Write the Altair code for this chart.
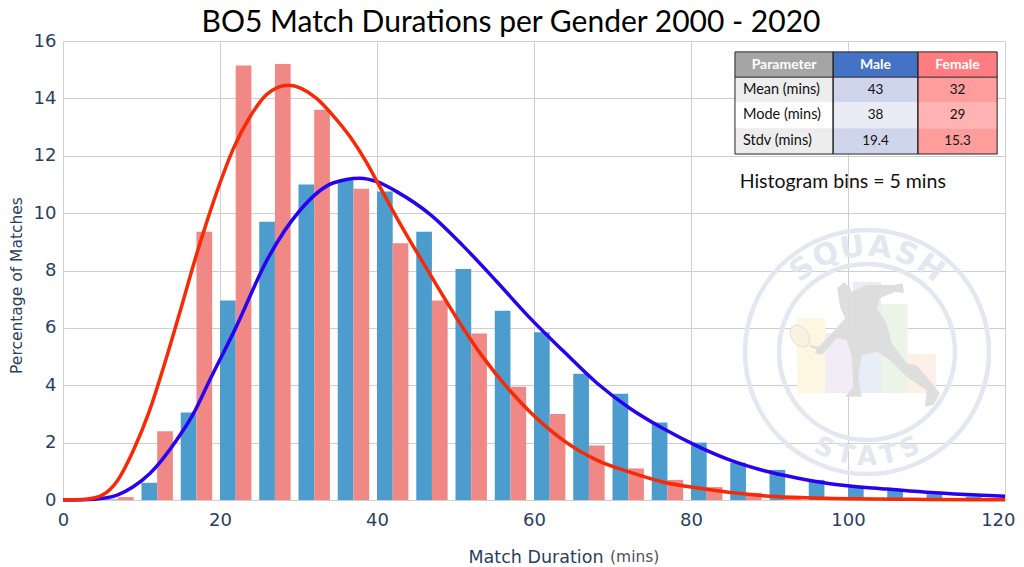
import altair as alt
import pandas as pd
import math

title = "BO5 Match Durations per Gender 2000 - 2020"
bin_centres = [7, 12, 17, 22, 27, 32, 37, 42, 47, 52, 57, 62, 67, 72, 77, 82, 87, 92, 97, 102, 107, 112, 117]
male_pct = [0.02, 0.6, 3.05, 6.95, 9.7, 11.0, 11.15, 10.75, 9.35, 8.05, 6.6, 5.85, 4.4, 3.7, 2.7, 2.0, 1.3, 1.05, 0.7, 0.5, 0.35, 0.2, 0.12]
female_pct = [0.1, 2.4, 9.35, 15.15, 15.2, 13.6, 10.85, 8.95, 6.95, 5.8, 3.95, 3.0, 1.9, 1.1, 0.7, 0.45, 0.25, 0.15, 0.1, 0.05, 0.03, 0.02, 0.01]

male_x = [0, 4, 6.9, 8.9, 11.1, 14.5, 16.6, 18.7, 22, 26, 30.2, 34.4, 37.8, 40, 42.5, 46.8, 51, 55.3, 59.5, 63.7, 68, 72.2, 76.4, 80.8, 85, 89.2, 93.5, 97.7, 105, 110, 115, 120]
male_y = [0, 0.03, 0.17, 0.45, 0.93, 2.1, 3.0, 4.18, 6.0, 8.37, 10.1, 11.05, 11.22, 11.1, 10.75, 9.95, 8.85, 7.6, 6.34, 5.2, 4.08, 3.2, 2.5, 1.88, 1.39, 1.03, 0.77, 0.57, 0.38, 0.27, 0.19, 0.13]
female_x = [0, 3, 5, 7, 9, 11, 13, 15, 17, 18.5, 20, 21.7, 23.8, 26, 28.7, 32.3, 34.4, 36.6, 38.7, 40, 42.7, 46.8, 51, 53.5, 59.5, 63.7, 68, 72.2, 76.4, 80.8, 89.2, 97, 110, 120]
female_y = [0, 0.03, 0.17, 0.7, 1.75, 3.1, 4.8, 6.65, 8.55, 9.85, 11.05, 12.25, 13.35, 14.15, 14.46, 14.0, 13.4, 12.65, 11.75, 11.1, 9.75, 7.85, 5.98, 4.98, 3.07, 2.09, 1.39, 0.97, 0.63, 0.42, 0.15, 0.06, 0.02, 0.01]

XS = alt.Scale(domain=[0, 120], nice=False, zero=False, padding=0)
YS = alt.Scale(domain=[0, 16], nice=False, zero=False, padding=0)
INK = "#2a3f5f"
GRID = "#cfcfcf"

x_axis = alt.Axis(values=list(range(0, 121, 20)), grid=True, gridColor=GRID, gridWidth=1, domain=False, ticks=False,
                  labelFontSize=18, labelColor=INK, labelFont="DejaVu Sans", labelPadding=11, labelFlush=False,
                  labelAlign=alt.expr("datum.value == 120 ? 'right' : 'center'"),
                  labelOffset=alt.expr("datum.value == 120 ? 10 : 0"),
                  title="Match Duration", titleFont="DejaVu Sans", titleFontSize=17.5, titleFontWeight="normal",
                  titleColor=INK, titleAlign="left", titleBaseline="alphabetic", titleX=405, titleY=62)
y_axis = alt.Axis(values=list(range(0, 17, 2)), grid=True, gridColor=GRID, gridWidth=1, domain=True, domainColor=GRID, ticks=False,
                  labelFontSize=18, labelColor=INK, labelFont="DejaVu Sans", labelPadding=7,
                  title="Percentage of Matches", titleFont="DejaVu Sans", titleFontSize=15.5, titleFontWeight="normal",
                  titleColor=INK, titleX=-39, titleY=244)


def X(f="x"):
    return alt.X(f"{f}:Q", scale=XS, axis=x_axis)


def Y(f="y"):
    return alt.Y(f"{f}:Q", scale=YS, axis=y_axis)


one = pd.DataFrame({"a": [0]})

# ---- watermark logo ----
LOGO_STROKE = "#e2e7f0"
logo_bars = pd.DataFrame({
    "x": [93.5, 97.1, 100.6, 104.2, 107.6],
    "x2": [97.1, 100.6, 104.2, 107.6, 111.2],
    "y": [3.73, 3.73, 3.73, 3.73, 3.73],
    "y2": [6.34, 5.82, 7.6, 6.83, 5.09],
    "c": ["#fdf6e0", "#f2ecf7", "#e8edf7", "#ecf3e8", "#fdf0e8"],
})
logo_rects = alt.Chart(logo_bars).mark_rect().encode(x=X(), x2="x2", y=Y(), y2="y2", color=alt.Color("c:N", scale=None))

cx, cy = 867 - 63, 352 - 41
logo_rings = []
for r in (122, 88):
    logo_rings.append(alt.Chart(one).mark_point(filled=False, shape="circle", stroke=LOGO_STROKE, strokeWidth=4.5, size=(2 * r) ** 2, opacity=1).encode(
        x=alt.value(cx), y=alt.value(cy)))

logo_letters = []
for ch, deg in [("S", -38), ("Q", -23), ("U", -8), ("A", 7), ("S", 22), ("H", 37)]:
    t = math.radians(deg)
    logo_letters.append(alt.Chart(one).mark_text(text=ch, font="DejaVu Sans", fontWeight="bold", fontSize=30, color=LOGO_STROKE, angle=(deg + 360) % 360, align="center", baseline="middle").encode(
        x=alt.value(cx + 105 * math.sin(t)), y=alt.value(cy - 105 * math.cos(t))))
for ch, deg in [("S", 24), ("T", 12), ("A", 0), ("T", -12), ("S", -24)]:
    t = math.radians(deg)
    logo_letters.append(alt.Chart(one).mark_text(text=ch, font="DejaVu Sans", fontWeight="bold", fontSize=26, color=LOGO_STROKE, angle=(deg + 360) % 360, align="center", baseline="middle").encode(
        x=alt.value(cx - 105 * math.sin(t)), y=alt.value(cy + 105 * math.cos(t))))

outline = [(352, 175), (370, 157), (390, 170), (395, 185), (440, 165), (520, 165), (548, 160), (552, 190), (525, 185), (480, 205), (470, 235),
           (500, 280), (515, 340), (560, 400), (590, 405), (640, 465), (660, 490), (640, 525), (615, 530), (620, 480), (560, 440), (510, 390), (470, 365),
           (425, 375), (415, 440), (425, 500), (375, 500), (400, 470), (395, 380), (380, 330), (350, 325), (305, 375), (285, 370), (290, 358), (268, 350), (270, 346), (296, 350), (340, 305), (375, 265), (360, 230)]
path = "M" + " L".join(f"{(a - 430) / 250:.3f},{(b - 340) / 250:.3f}" for a, b in outline) + " Z"
player = alt.Chart(one).mark_point(shape=path, filled=True, fill="#dcdcdc", opacity=0.95, size=(500 / 3) ** 2).encode(
    x=alt.value(720 + 430 / 3 - 63), y=alt.value(230 + 340 / 3 - 41))
racket_path = "M-0.7,0 A0.7,1 0 1,1 0.7,0 A0.7,1 0 1,1 -0.7,0 Z"
racket = alt.Chart(one).mark_point(shape=racket_path, filled=True, fill="#faf2e2", stroke="#dddddd", strokeWidth=1, opacity=0.9, size=24 ** 2, angle=325).encode(
    x=alt.value(720 + 240 / 3 - 63), y=alt.value(230 + 318 / 3 - 41))

# ---- bars and curves ----
male_bars = pd.DataFrame({"x": [c - 2 for c in bin_centres], "x2": bin_centres, "y": male_pct, "y0": [0.0] * len(bin_centres)})
female_bars = pd.DataFrame({"x": bin_centres, "x2": [c + 2 for c in bin_centres], "y": female_pct, "y0": [0.0] * len(bin_centres)})
bars_m = alt.Chart(male_bars).mark_rect(color="#4c9dce").encode(x=X(), x2="x2", y=Y(), y2="y0")
bars_f = alt.Chart(female_bars).mark_rect(color="#f08986").encode(x=X(), x2="x2", y=Y(), y2="y0")

line_m = alt.Chart(pd.DataFrame({"x": male_x, "y": male_y})).mark_line(color="#2a00f0", strokeWidth=3.5, interpolate="monotone").encode(x=X(), y=Y())
line_f = alt.Chart(pd.DataFrame({"x": female_x, "y": female_y})).mark_line(color="#f72a05", strokeWidth=3.5, interpolate="monotone").encode(x=X(), y=Y())

# ---- stats table ----
col_names = ["Parameter", "Male", "Female"]
row_names = ["Mean (mins)", "Mode (mins)", "Stdv (mins)"]
male_stats = ["43", "38", "19.4"]
female_stats = ["32", "29", "15.3"]
col_edges = [85.6, 98.1, 108.9, 119.0]
row_edges = [15.62, 14.74, 13.87, 12.96, 12.06]
head_fill = ["#a5a5a5", "#4472c4", "#ff7c80"]
body_fill = [["#ededed", "#cfd5ea", "#ff9c9c"], ["#ffffff", "#e9ebf5", "#ffb3b3"], ["#ededed", "#cfd5ea", "#ff9c9c"]]

cells = []
rows = [col_names] + [[row_names[i], male_stats[i], female_stats[i]] for i in range(3)]
fills = [head_fill] + body_fill
for r in range(4):
    for c in range(3):
        cells.append({"x": col_edges[c], "x2": col_edges[c + 1], "y": row_edges[r], "y2": row_edges[r + 1],
                      "xm": (col_edges[c] + col_edges[c + 1]) / 2, "ym": (row_edges[r] + row_edges[r + 1]) / 2,
                      "t": rows[r][c], "f": fills[r][c], "head": r == 0, "col": c})
cells = pd.DataFrame(cells)
cell_rect = alt.Chart(cells).mark_rect().encode(x=X(), x2="x2", y=Y(), y2="y2", color=alt.Color("f:N", scale=None))
frame = alt.Chart(pd.DataFrame({"x": col_edges[:-1], "x2": col_edges[1:], "y": [row_edges[0]] * 3, "y2": [row_edges[-1]] * 3})).mark_rect(
    fill=None, stroke="#222222", strokeWidth=1).encode(x=X(), x2="x2", y=Y(), y2="y2")
head_lines = alt.Chart(pd.DataFrame({"x": [col_edges[0]], "x2": [col_edges[-1]], "y": [row_edges[1]]})).mark_rule(color="#222222", strokeWidth=1).encode(x=X(), x2="x2", y=Y())
txt_head = alt.Chart(cells[cells["head"]]).mark_text(font="Lato", fontSize=14, fontWeight="bold", color="white").encode(x=X("xm"), y=Y("ym"), text="t:N")
txt_body = alt.Chart(cells[(~cells["head"]) & (cells["col"] > 0)]).mark_text(font="Lato", fontSize=13.5, color="#111111").encode(x=X("xm"), y=Y("ym"), text="t:N")
txt_row = alt.Chart(cells[(~cells["head"]) & (cells["col"] == 0)]).mark_text(font="Lato", fontSize=14.5, color="#111111", align="left", dx=8).encode(x=X(), y=Y("ym"), text="t:N")
note = alt.Chart(pd.DataFrame({"x": [86.2], "y": [11.08], "t": ["Histogram bins = 5 mins"]})).mark_text(font="Lato", fontSize=19.5, color="#111111", align="left").encode(x=X(), y=Y(), text="t:N")
unit = alt.Chart(one).mark_text(text="(mins)", font="DejaVu Sans", fontSize=15.5, color="#50505c", align="left", baseline="alphabetic").encode(
    x=alt.value(610 - 63), y=alt.value(562 - 41))

chart = alt.layer(logo_rects, *logo_rings, *logo_letters, racket, player, bars_m, bars_f, line_m, line_f,
                  cell_rect, frame, head_lines, txt_head, txt_body, txt_row, note, unit).properties(
    width=942, height=459,
    title=alt.TitleParams(title, font="Lato", fontSize=30, fontWeight="normal", color="#000000", anchor="middle", offset=-6, dx=-23),
    autosize=alt.AutoSizeParams(type="none"),
    padding={"left": 55, "top": 33, "right": 11, "bottom": 66},
).configure_view(stroke=None)

chart.save("out.html", embed_options={"renderer": "svg", "actions": False})
